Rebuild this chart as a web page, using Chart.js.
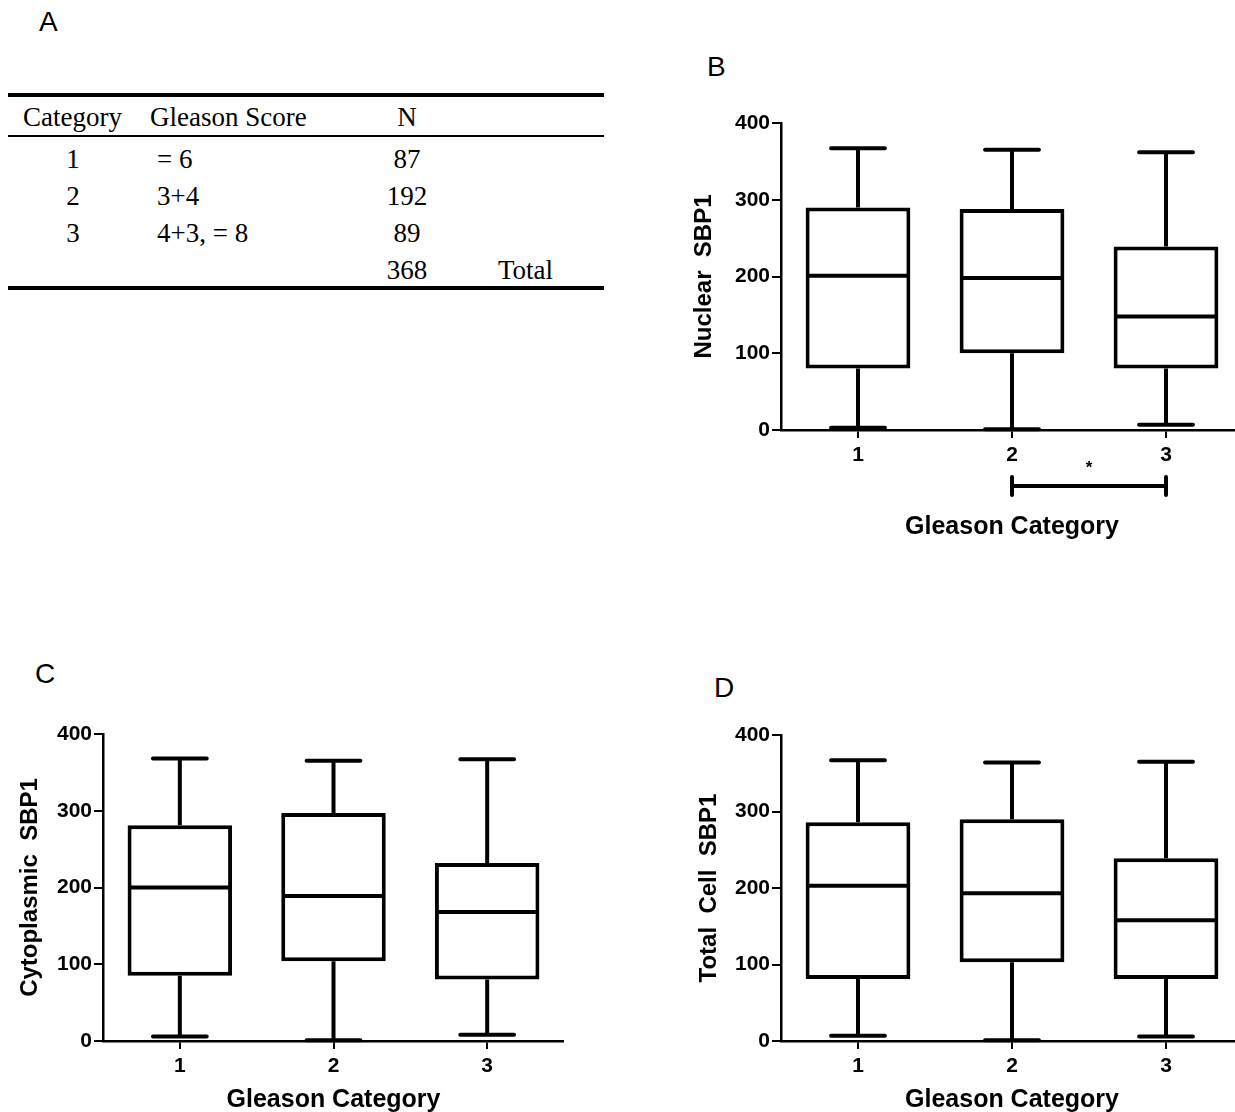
<!DOCTYPE html>
<html>
<head>
<meta charset="utf-8">
<script src="https://cdn.jsdelivr.net/npm/chart.js@4.4.0/dist/chart.umd.min.js"></script>
<style>
    html, body { margin: 0; padding: 0; background: #fff; width: 1235px; height: 1112px; overflow: hidden; position: relative; }
    .panel { position: absolute; }
    .lbl { position: absolute; font-family: 'Liberation Sans', Arial, sans-serif; font-size: 28px; line-height: 1; color: #000; }
    .cell { position: absolute; font-family: 'Liberation Serif', 'Times New Roman', serif; font-size: 27px; line-height: 1; color: #000; white-space: pre; }
    .rule { position: absolute; background: #000; }
</style>
</head>
<body>

<div class="lbl" style="left:39px; top:8px;">A</div>
<div class="lbl" style="left:707px; top:53px;">B</div>
<div class="lbl" style="left:35px; top:660px;">C</div>
<div class="lbl" style="left:714px; top:674px;">D</div>

<div id="tableA"></div>

<div class="panel" id="panelB"><canvas id="chartB"></canvas></div>
<div class="panel" id="panelC"><canvas id="chartC"></canvas></div>
<div class="panel" id="panelD"><canvas id="chartD"></canvas></div>

<script>
// Panel A table
const tableCategories = ['1', '2', '3'];
const gleasonScores = ['= 6', '3+4', '4+3, = 8'];
const caseCounts = [87, 192, 89];
const caseTotal = 368;

// Box plots: shared axis
const categories = ['1', '2', '3'];
const yTicks = [0, 100, 200, 300, 400];

// B - Nuclear SBP1
const nuclearMin = [3, 1, 7];
const nuclearQ1 = [80, 100, 80];
const nuclearMedian = [201, 198, 148];
const nuclearQ3 = [290, 288, 239];
const nuclearMax = [367, 365, 362];

// C - Cytoplasmic SBP1
const cytoMin = [6, 1, 8];
const cytoQ1 = [85, 104, 80];
const cytoMedian = [200, 189, 168];
const cytoQ3 = [281, 297, 232];
const cytoMax = [368, 365, 367];

// D - Total Cell SBP1
const totalMin = [7, 1, 6];
const totalQ1 = [81, 103, 81];
const totalMedian = [203, 193, 158];
const totalQ3 = [286, 290, 239];
const totalMax = [367, 364, 365];

const FONT = "'Liberation Sans', Arial, sans-serif";

function buildTable() {
    const host = document.getElementById('tableA');
    const add = (text, left, top, center) => {
        const d = document.createElement('div');
        d.className = 'cell';
        d.textContent = text;
        d.style.top = top + 'px';
        if (center) {
            d.style.left = (left - 60) + 'px';
            d.style.width = '120px';
            d.style.textAlign = 'center';
        } else {
            d.style.left = left + 'px';
        }
        host.appendChild(d);
    };
    const rule = (top, h) => {
        const r = document.createElement('div');
        r.className = 'rule';
        r.style.cssText = `left:8px; width:596px; top:${top}px; height:${h}px;`;
        host.appendChild(r);
    };
    rule(93, 4);
    rule(135, 2);
    rule(286, 4);

    add('Category', 23, 104);
    add('Gleason Score', 150, 104);
    add('N', 407, 104, true);

    const rowTops = [146, 183, 220];
    tableCategories.forEach((c, i) => {
        add(c, 73, rowTops[i], true);
        add(gleasonScores[i], 157, rowTops[i]);
        add(String(caseCounts[i]), 407, rowTops[i], true);
    });
    add(String(caseTotal), 407, 257, true);
    add('Total', 498, 257);
}

function makePanel(id, cfg, mins, q1s, medians, q3s, maxs, yTitle, showSig) {
    const el = document.getElementById(id);
    el.style.left = cfg.left + 'px';
    el.style.top = cfg.top + 'px';
    el.style.width = cfg.width + 'px';
    el.style.height = cfg.height + 'px';
    const bottomEdge = cfg.top + cfg.height;

    const whiskers = {
        id: 'whiskers_' + id,
        afterDatasetsDraw(chart) {
            const { ctx, scales: { x, y } } = chart;
            const meta = chart.getDatasetMeta(0);
            const step = x.getPixelForValue(1) - x.getPixelForValue(0);
            const capHalf = step * 0.35 / 2;
            ctx.save();
            ctx.strokeStyle = '#000';
            ctx.lineWidth = 4;
            categories.forEach((c, i) => {
                const bar = meta.data[i];
                const cx = x.getPixelForValue(i);
                const half = bar.width / 2;
                const yMin = y.getPixelForValue(mins[i]);
                const yQ1 = y.getPixelForValue(q1s[i]);
                const yMed = y.getPixelForValue(medians[i]);
                const yQ3 = y.getPixelForValue(q3s[i]);
                const yMax = y.getPixelForValue(maxs[i]);
                ctx.lineCap = 'butt';
                ctx.beginPath();
                ctx.moveTo(cx, yQ1); ctx.lineTo(cx, yMin);
                ctx.moveTo(cx, yQ3); ctx.lineTo(cx, yMax);
                ctx.moveTo(cx - half + 3, yMed); ctx.lineTo(cx + half - 3, yMed);
                ctx.stroke();
                ctx.lineCap = 'round';
                ctx.beginPath();
                ctx.moveTo(cx - capHalf, yMin); ctx.lineTo(cx + capHalf, yMin);
                ctx.moveTo(cx - capHalf, yMax); ctx.lineTo(cx + capHalf, yMax);
                ctx.stroke();
            });
            if (showSig) {
                const x1 = x.getPixelForValue(1);
                const x2 = x.getPixelForValue(2);
                const sy = chart.chartArea.bottom + 56;
                ctx.lineWidth = 4;
                ctx.lineCap = 'round';
                ctx.beginPath();
                ctx.moveTo(x1, sy); ctx.lineTo(x2, sy);
                ctx.moveTo(x1, sy - 9); ctx.lineTo(x1, sy + 9);
                ctx.moveTo(x2, sy - 9); ctx.lineTo(x2, sy + 9);
                ctx.stroke();
                ctx.fillStyle = '#000';
                ctx.font = 'bold 17px ' + FONT;
                ctx.textAlign = 'center';
                ctx.textBaseline = 'middle';
                ctx.fillText('*', (x1 + x2) / 2, sy - 18);
            }
            ctx.restore();
        }
    };

    return new Chart(document.getElementById(id).querySelector('canvas'), {
        type: 'bar',
        data: {
            labels: categories,
            datasets: [{
                data: categories.map((c, i) => [q1s[i], q3s[i]]),
                backgroundColor: '#fff',
                borderColor: '#000',
                borderWidth: 4,
                borderSkipped: false,
                barPercentage: 0.68,
                categoryPercentage: 1
            }]
        },
        options: {
            responsive: true,
            maintainAspectRatio: false,
            animation: false,
            devicePixelRatio: 1,
            layout: { padding: { top: cfg.areaTop - cfg.top, left: 0, right: 0, bottom: 0 } },
            plugins: {
                legend: { display: false },
                tooltip: { enabled: false }
            },
            scales: {
                x: {
                    grid: { display: true, drawOnChartArea: false, drawTicks: true, tickLength: 8, offset: false, color: '#000', lineWidth: 2 },
                    border: { display: true, color: '#000', width: 2.5 },
                    ticks: { color: '#000', padding: 5, font: { family: FONT, size: 21, weight: 'bold' } },
                    title: {
                        display: true,
                        text: 'Gleason Category',
                        color: '#000',
                        font: { family: FONT, size: 25, weight: 'bold', lineHeight: 1 },
                        padding: { top: 0, bottom: bottomEdge - cfg.xTitleY - 12.5 }
                    },
                    afterFit: s => { s.height = bottomEdge - cfg.areaBottom; }
                },
                y: {
                    min: 0,
                    max: 400,
                    afterBuildTicks: s => { s.ticks = yTicks.map(v => ({ value: v })); },
                    grid: { display: true, drawOnChartArea: false, drawTicks: true, tickLength: 9, color: '#000', lineWidth: 2 },
                    border: { display: true, color: '#000', width: 2.5 },
                    ticks: { color: '#000', padding: 2, font: { family: FONT, size: 21, weight: 'bold' } },
                    title: {
                        display: true,
                        text: yTitle,
                        color: '#000',
                        font: { family: FONT, size: 24, weight: 'bold', lineHeight: 1 },
                        padding: { top: cfg.yTitleX - cfg.left - 12, bottom: 0 }
                    },
                    afterFit: s => { s.width = cfg.areaLeft - cfg.left; }
                }
            }
        },
        plugins: [whiskers]
    });
}

buildTable();

makePanel('panelB',
    { left: 680, top: 100, width: 563, height: 445, areaLeft: 781, areaTop: 123, areaBottom: 430, yTitleX: 704, xTitleY: 527 },
    nuclearMin, nuclearQ1, nuclearMedian, nuclearQ3, nuclearMax, 'Nuclear  SBP1', true);

makePanel('panelC',
    { left: 0, top: 705, width: 564, height: 410, areaLeft: 103, areaTop: 734, areaBottom: 1041, yTitleX: 30, xTitleY: 1100 },
    cytoMin, cytoQ1, cytoMedian, cytoQ3, cytoMax, 'Cytoplasmic  SBP1', false);

makePanel('panelD',
    { left: 680, top: 705, width: 563, height: 410, areaLeft: 781, areaTop: 735, areaBottom: 1041, yTitleX: 709, xTitleY: 1100 },
    totalMin, totalQ1, totalMedian, totalQ3, totalMax, 'Total  Cell  SBP1', false);
</script>
</body>
</html>
